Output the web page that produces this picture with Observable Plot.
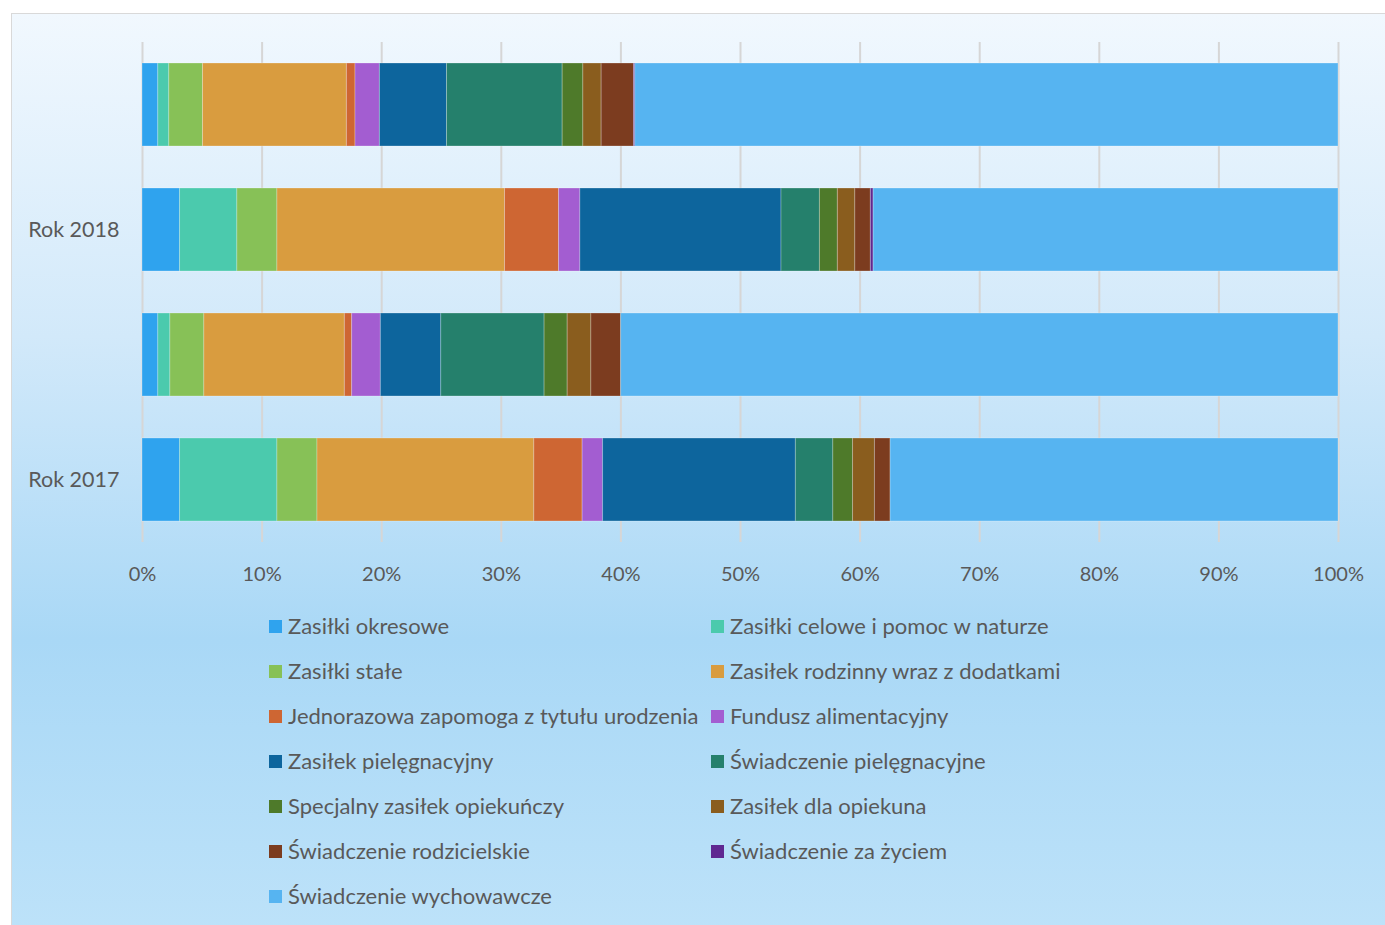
<!DOCTYPE html>
<html>
<head>
<meta charset="utf-8">
<script src="https://cdn.jsdelivr.net/npm/d3@7"></script>
<script src="https://cdn.jsdelivr.net/npm/@observablehq/plot@0.6"></script>
<style>
  html, body { margin: 0; padding: 0; background: #ffffff; width: 1385px; height: 925px; overflow: hidden; }
  #box { position: absolute; left: 11px; top: 13px; width: 1380px; height: 920px; border: 1px solid #d9d9d9;
         background: linear-gradient(to bottom, #f1f8fe 0%, #d2e9fa 35%, #a9d8f6 68%, #bde2f9 100%); }
  #chart { position: absolute; left: 0; top: 0; }
  #legend { position: absolute; left: 0; top: 0; font-family: Lato, "Open Sans", sans-serif; font-size: 22px; color: #595959; }
  .item { position: absolute; white-space: nowrap; line-height: 1; }
  .sw { position: absolute; width: 13px; height: 13px; }
</style>
</head>
<body>
<div id="box"></div>
<div id="chart"></div>
<div id="legend"></div>
<script>
const categories = [
  "Zasiłki okresowe",
  "Zasiłki celowe i pomoc w naturze",
  "Zasiłki stałe",
  "Zasiłek rodzinny wraz z dodatkami",
  "Jednorazowa zapomoga z tytułu urodzenia",
  "Fundusz alimentacyjny",
  "Zasiłek pielęgnacyjny",
  "Świadczenie pielęgnacyjne",
  "Specjalny zasiłek opiekuńczy",
  "Zasiłek dla opiekuna",
  "Świadczenie rodzicielskie",
  "Świadczenie za życiem",
  "Świadczenie wychowawcze"
];
const colors = ["#2fa3ee", "#4bcaad", "#87c157", "#d99c3f", "#ce6633", "#a35dd1", "#0d659d",
                "#25806c", "#4e7a2a", "#8a5d1e", "#7c3c1f", "#5f2891", "#56b4f1"];
const rowKeys = ["r2018a", "Rok 2018", "r2017a", "Rok 2017"];
const rowLabels = ["", "Rok 2018", "", "Rok 2017"];
const values2018a = [1.32, 0.92, 2.82, 12.03, 0.72, 2.04, 5.61, 9.67, 1.73, 1.53, 2.71, 0.10, 58.80];
const values2018b = [3.14, 4.79, 3.35, 19.03, 4.52, 1.78, 16.82, 3.21, 1.50, 1.46, 1.30, 0.23, 38.87];
const values2017a = [1.32, 1.01, 2.84, 11.75, 0.61, 2.40, 5.05, 8.64, 1.93, 1.98, 2.49, 0.00, 59.98];
const values2017b = [3.14, 8.14, 3.35, 18.13, 4.04, 1.71, 16.12, 3.13, 1.65, 1.83, 1.31, 0.00, 37.45];
const xTicks = [0, 10, 20, 30, 40, 50, 60, 70, 80, 90, 100];

const series = [values2018a, values2018b, values2017a, values2017b];
const data = [];
rowKeys.forEach((r, i) => {
  categories.forEach((c, j) => data.push({row: r, cat: c, value: series[i][j]}));
});

const fontFam = "Lato, 'Open Sans', sans-serif";
const chart = Plot.plot({
  width: 1385,
  height: 600,
  marginLeft: 142,
  marginRight: 47,
  marginTop: 42,
  marginBottom: 58,
  style: {background: "transparent", fontFamily: fontFam, fontSize: "20px", color: "#595959"},
  x: {domain: [0, 100], ticks: xTicks, tickFormat: d => d + "%", label: null},
  y: {domain: rowKeys, paddingInner: 0.336, paddingOuter: 0.168, label: null,
      tickFormat: d => rowLabels[rowKeys.indexOf(d)]},
  color: {domain: categories, range: colors},
  marks: [
    Plot.gridX(xTicks, {stroke: "#d6d6d6", strokeOpacity: 1, strokeWidth: 2}),
    Plot.barX(data, Plot.stackX({x: "value", y: "row", fill: "cat", order: null,
      stroke: "#ffffff", strokeOpacity: 0.25, strokeWidth: 1, inset: 0})),
    Plot.axisX({ticks: xTicks, tickFormat: d => d + "%", tickSize: 0, tickPadding: 24, fontSize: 20, label: null}),
    Plot.axisY({tickSize: 0, tickPadding: 23, fontSize: 21.5, label: null,
      tickFormat: d => rowLabels[rowKeys.indexOf(d)]})
  ]
});
document.getElementById("chart").appendChild(chart);

const legend = document.getElementById("legend");
categories.forEach((c, i) => {
  const col = i % 2, row = Math.floor(i / 2);
  const cy = 627 + row * 45;
  const sx = col === 0 ? 269 : 711;
  const sw = document.createElement("div");
  sw.className = "sw";
  sw.style.left = sx + "px";
  sw.style.top = (cy - 7) + "px";
  sw.style.background = colors[i];
  legend.appendChild(sw);
  const t = document.createElement("div");
  t.className = "item";
  t.style.left = (sx + 19) + "px";
  t.style.top = (cy - 12) + "px";
  t.textContent = c;
  legend.appendChild(t);
});
</script>
</body>
</html>
